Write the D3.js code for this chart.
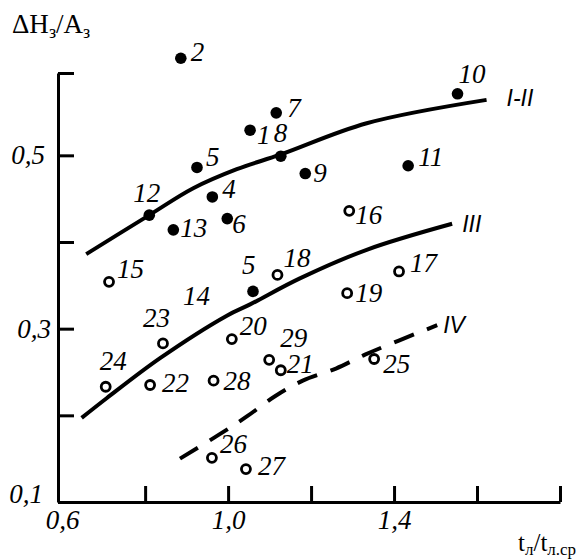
<!DOCTYPE html>
<html>
<head>
<meta charset="utf-8">
<script src="https://cdn.jsdelivr.net/npm/d3@7"></script>
<style>
  html, body { margin: 0; padding: 0; background: #fff; }
  svg { display: block; }
</style>
</head>
<body>
<svg id="chart" width="587" height="559"></svg>
<script>
// ---- Measurements: filled markers (groups I–II) ----
const filledLabels = ["1", "2", "4", "5", "6", "7", "8", "9", "10", "11", "12", "13", "5"];
const filledX = [1.053, 0.886, 0.962, 0.925, 0.998, 1.116, 1.127, 1.186, 1.553, 1.434, 0.810, 0.868, 1.060];
const filledY = [0.529, 0.612, 0.452, 0.486, 0.427, 0.549, 0.499, 0.479, 0.571, 0.488, 0.431, 0.414, 0.343];

// ---- Measurements: open markers (groups III–IV) ----
const openLabels = ["15", "16", "17", "18", "19", "20", "21", "22", "23", "24", "25", "26", "27", "28", "29"];
const openX = [0.713, 1.292, 1.412, 1.119, 1.287, 1.009, 1.127, 0.812, 0.843, 0.705, 1.352, 0.961, 1.043, 0.965, 1.099];
const openY = [0.354, 0.436, 0.366, 0.362, 0.341, 0.288, 0.252, 0.235, 0.283, 0.233, 0.265, 0.151, 0.138, 0.240, 0.264];

// Point number shown without a marker
const looseLabels = ["14"];
const looseX = [0.891];
const looseY = [0.327];

// ---- Trend curves ----
const curveNames = ["I-II", "III", "IV"];
const curve12X = [0.658, 0.810, 0.916, 1.021, 1.127, 1.334, 1.623];
const curve12Y = [0.386, 0.431, 0.462, 0.484, 0.501, 0.537, 0.564];
const curve3X = [0.647, 0.708, 0.836, 0.997, 1.053, 1.173, 1.334, 1.540];
const curve3Y = [0.197, 0.220, 0.266, 0.315, 0.328, 0.358, 0.391, 0.421];
const curve4X = [0.884, 0.979, 1.046, 1.113, 1.180, 1.260, 1.330, 1.410, 1.504];
const curve4Y = [0.150, 0.178, 0.199, 0.222, 0.240, 0.254, 0.270, 0.286, 0.304];

// ---- Axis ticks ----
const xTicks = [0.6, 0.8, 1.0, 1.2, 1.4, 1.6, 1.8];
const xTickLabels = [0.6, 1.0, 1.4];
const yTicks = [0.1, 0.2, 0.3, 0.4, 0.5, 0.595];
const yTickLabels = [0.1, 0.3, 0.5];

// ---- Label placement (offset of number from its marker: dx, dy) ----
const filledOffsets = [[7, 14], [10, 3], [10, 1], [9, -1], [5, 14], [11, 4], [-7, -14], [8, 8], [1, -11], [10, 0], [-16, -13], [7, 7], [-11, -17]];
const openOffsets = [[8, -4], [6, 13], [11, 1], [6, -8], [8, 9], [8, -4], [6, 3], [12, 7], [-20, -16], [-6, -17], [9, 14], [8, -5], [12, 6], [10, 9], [11, -13]];
const curveLabelOffsets = [[20, 6], [10, 8], [6, 8]];

const serif = "'Liberation Serif', Tinos, 'Times New Roman', 'Noto Serif', 'DejaVu Serif', serif";
const sans = "'Liberation Sans', Arimo, Arial, sans-serif";

const svg = d3.select("#chart");
svg.append("rect").attr("width", 587).attr("height", 559).attr("fill", "#fff");

const x = d3.scaleLinear().domain([0.59, 1.8]).range([58, 560]);
const y = d3.scaleLinear().domain([0.1, 0.595]).range([502, 73]);

const fmt = d3.formatLocale({ decimal: ",", thousands: " ", grouping: [3], currency: ["", ""] }).format(".1f");

// ---- Y axis (ticks point into the plot) ----
const gy = svg.append("g")
  .attr("transform", "translate(58,0)")
  .call(d3.axisLeft(y)
    .tickValues(yTicks)
    .tickSizeInner(-16)
    .tickSizeOuter(0)
    .tickPadding(13)
    .tickFormat(d => yTickLabels.includes(d) ? fmt(d) : ""));
gy.attr("font-family", null).attr("font-size", null);
gy.select(".domain").attr("stroke", "#000").attr("stroke-width", 3);
gy.selectAll(".tick line").attr("stroke", "#000").attr("stroke-width", 3);
gy.selectAll(".tick text")
  .attr("fill", "#000")
  .style("font-family", serif)
  .style("font-style", "italic")
  .style("font-size", "27px")
  .attr("dy", d => d === 0.1 ? "0em" : "0.32em")
  .attr("x", d => d === 0.3 ? -7 : (d === 0.1 ? -15 : -13));

// ---- X axis (ticks point into the plot) ----
const gx = svg.append("g")
  .attr("transform", "translate(0,502)")
  .call(d3.axisBottom(x)
    .tickValues(xTicks)
    .tickSizeInner(-16)
    .tickSizeOuter(0)
    .tickPadding(8)
    .tickFormat(d => xTickLabels.includes(d) ? fmt(d) : ""));
gx.attr("font-family", null).attr("font-size", null);
gx.select(".domain").attr("stroke", "#000").attr("stroke-width", 3);
gx.selectAll(".tick line").attr("stroke", "#000").attr("stroke-width", 3)
  .attr("y2", d => d === 0.6 ? 0 : -16);
gx.selectAll(".tick text")
  .attr("fill", "#000")
  .style("font-family", serif)
  .style("font-style", "italic")
  .style("font-size", "27px");

// ---- Curves ----
const line = d3.line().x(d => x(d[0])).y(d => y(d[1])).curve(d3.curveCatmullRom.alpha(0.5));
const curves = [
  { pts: d3.zip(curve12X, curve12Y), dash: null },
  { pts: d3.zip(curve3X, curve3Y), dash: null },
  { pts: d3.zip(curve4X, curve4Y), dash: "21 14" }
];
curves.forEach((c, i) => {
  svg.append("path")
    .attr("d", line(c.pts))
    .attr("fill", "none")
    .attr("stroke", "#000")
    .attr("stroke-width", 4)
    .attr("stroke-dasharray", c.dash);
  const end = c.pts[c.pts.length - 1];
  svg.append("text")
    .attr("x", x(end[0]) + curveLabelOffsets[i][0])
    .attr("y", y(end[1]) + curveLabelOffsets[i][1])
    .style("font-family", sans)
    .style("font-style", "italic")
    .style("font-size", "23px")
    .attr("fill", "#000")
    .text(curveNames[i]);
});

// ---- Markers ----
const labelStyle = sel => sel
  .style("font-family", serif)
  .style("font-style", "italic")
  .style("font-size", "27px")
  .attr("fill", "#000");

const filled = filledLabels.map((l, i) => ({ l, x: filledX[i], y: filledY[i], o: filledOffsets[i] }));
const open = openLabels.map((l, i) => ({ l, x: openX[i], y: openY[i], o: openOffsets[i] }));

svg.append("g").selectAll("circle").data(filled).join("circle")
  .attr("cx", d => x(d.x)).attr("cy", d => y(d.y)).attr("r", 5.8)
  .attr("fill", "#000");
svg.append("g").selectAll("circle").data(open).join("circle")
  .attr("cx", d => x(d.x)).attr("cy", d => y(d.y)).attr("r", 4.5)
  .attr("fill", "#fff").attr("stroke", "#000").attr("stroke-width", 2.8);

svg.append("g").selectAll("text").data(filled.concat(open)).join("text")
  .attr("x", d => x(d.x) + d.o[0])
  .attr("y", d => y(d.y) + d.o[1])
  .call(labelStyle)
  .text(d => d.l);

svg.append("g").selectAll("text").data(looseLabels).join("text")
  .attr("x", (d, i) => x(looseX[i]))
  .attr("y", (d, i) => y(looseY[i]))
  .call(labelStyle)
  .text(d => d);

// ---- Axis titles ----
const yTitle = svg.append("text")
  .attr("x", 12).attr("y", 33)
  .style("font-family", serif).style("font-size", "27px").attr("fill", "#000");
yTitle.append("tspan").text("ΔH");
yTitle.append("tspan").attr("dy", 5).style("font-size", "18px").text("з");
yTitle.append("tspan").attr("dy", -5).text("/A");
yTitle.append("tspan").attr("dy", 5).style("font-size", "18px").text("з");

const xTitle = svg.append("text")
  .attr("x", 518).attr("y", 551)
  .style("font-family", serif).style("font-size", "25px").attr("fill", "#000");
xTitle.append("tspan").text("t");
xTitle.append("tspan").attr("dy", 4).style("font-size", "17px").text("л");
xTitle.append("tspan").attr("dy", -4).text("/t");
xTitle.append("tspan").attr("dy", 4).style("font-size", "17px").text("л.ср");
</script>
</body>
</html>
